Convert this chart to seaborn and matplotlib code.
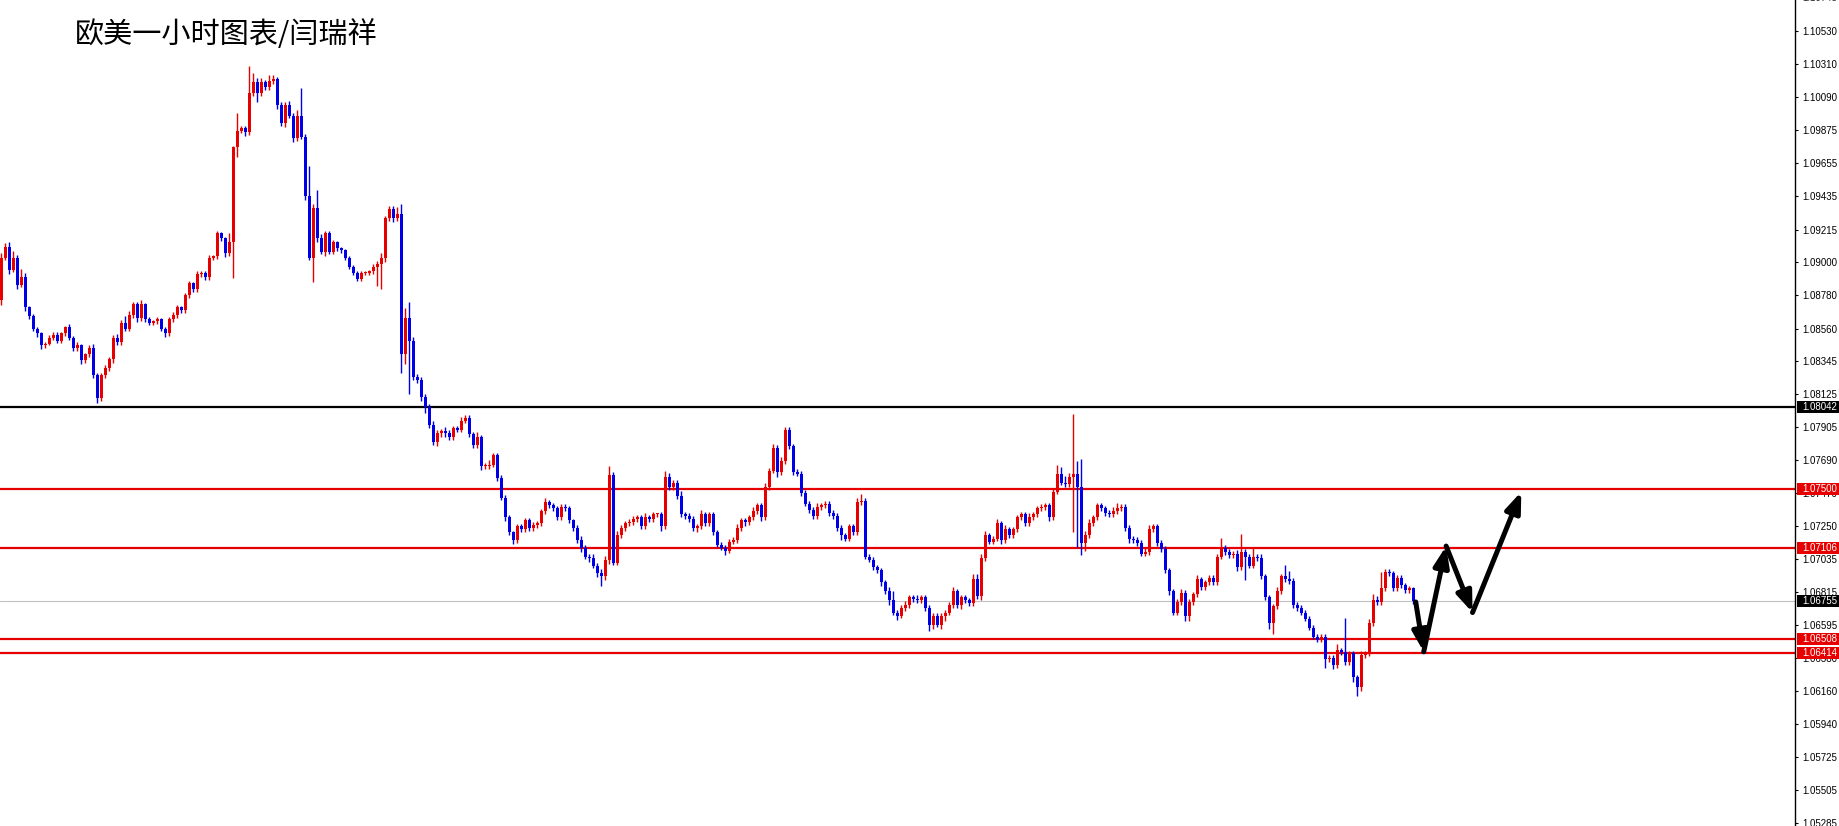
"""EURUSD 1h candlestick chart with support/resistance levels and forecast arrows."""

import matplotlib
matplotlib.use("Agg")
import matplotlib.pyplot as plt
import matplotlib.transforms as mtransforms
from matplotlib.patches import Rectangle
import numpy as np
import seaborn as sns


# ---------------------------------------------------------------------------
# Data (hourly closes, first open, wick lengths in pips)
# ---------------------------------------------------------------------------

first_open = 1.0875

closes = [
    1.0903, 1.0910, 1.0895, 1.0903, 1.0885, 1.0890, 1.0870, 1.0864, 1.0856, 1.0853,
    1.0845, 1.0846, 1.0850, 1.0852, 1.0848, 1.0853, 1.0857, 1.0850, 1.0843, 1.0845,
    1.0835, 1.0839, 1.0843, 1.0825, 1.0810, 1.0825, 1.0830, 1.0836, 1.0850, 1.0847,
    1.0860, 1.0856, 1.0865, 1.0872, 1.0863, 1.0872, 1.0862, 1.0860, 1.0861, 1.0862,
    1.0856, 1.0853, 1.0862, 1.0865, 1.0870, 1.0868, 1.0878, 1.0886, 1.0882, 1.0892,
    1.0893, 1.0890, 1.0903, 1.0904, 1.0919, 1.0916, 1.0906, 1.0913, 1.0976, 1.0987,
    1.0989, 1.0986, 1.1012, 1.1019, 1.1012, 1.1019, 1.1016, 1.1020, 1.1021, 1.1004,
    1.0992, 1.1004, 1.0997, 1.0982, 1.0997, 1.0983, 1.0944, 1.0903, 1.0936, 1.0916,
    1.0907, 1.0919, 1.0907, 1.0913, 1.0909, 1.0908, 1.0903, 1.0897, 1.0893, 1.0889,
    1.0893, 1.0893, 1.0894, 1.0897, 1.0899, 1.0903, 1.0929, 1.0935, 1.0929, 1.0932,
    1.0839, 1.0863, 1.0848, 1.0824, 1.0822, 1.0811, 1.0804, 1.0792, 1.0781, 1.0787,
    1.0788, 1.0787, 1.0784, 1.0790, 1.0789, 1.0795, 1.0797, 1.0786, 1.0779, 1.0784,
    1.0765, 1.0765, 1.0766, 1.0772, 1.0757, 1.0744, 1.0731, 1.0721, 1.0716, 1.0725,
    1.0723, 1.0729, 1.0724, 1.0726, 1.0727, 1.0735, 1.0741, 1.0739, 1.0737, 1.0731,
    1.0738, 1.0737, 1.0729, 1.0724, 1.0716, 1.0711, 1.0705, 1.0704, 1.0699, 1.0694,
    1.0692, 1.0703, 1.0759, 1.0701, 1.0719, 1.0724, 1.0727, 1.0728, 1.0730, 1.0731,
    1.0725, 1.0731, 1.0730, 1.0733, 1.0733, 1.0725, 1.0758, 1.0751, 1.0754, 1.0745,
    1.0733, 1.0732, 1.0730, 1.0724, 1.0725, 1.0733, 1.0727, 1.0733, 1.0721, 1.0713,
    1.0711, 1.0709, 1.0715, 1.0716, 1.0724, 1.0729, 1.0728, 1.0731, 1.0735, 1.0739,
    1.0731, 1.0751, 1.0762, 1.0777, 1.0761, 1.0768, 1.0789, 1.0778, 1.0761, 1.0760,
    1.0747, 1.0740, 1.0736, 1.0732, 1.0738, 1.0739, 1.0740, 1.0734, 1.0732, 1.0724,
    1.0719, 1.0717, 1.0725, 1.0721, 1.0741, 1.0742, 1.0705, 1.0703, 1.0698, 1.0696,
    1.0688, 1.0682, 1.0676, 1.0668, 1.0666, 1.0671, 1.0673, 1.0678, 1.0677, 1.0676,
    1.0678, 1.0671, 1.0660, 1.0666, 1.0660, 1.0666, 1.0668, 1.0673, 1.0682, 1.0673,
    1.0678, 1.0676, 1.0674, 1.0690, 1.0679, 1.0704, 1.0719, 1.0715, 1.0717, 1.0727,
    1.0716, 1.0723, 1.0719, 1.0723, 1.0731, 1.0733, 1.0727, 1.0731, 1.0733, 1.0737,
    1.0738, 1.0739, 1.0731, 1.0748, 1.0760, 1.0754, 1.0753, 1.0758, 1.0760, 1.0751,
    1.0714, 1.0719, 1.0727, 1.0731, 1.0739, 1.0737, 1.0734, 1.0733, 1.0735, 1.0737,
    1.0738, 1.0724, 1.0717, 1.0716, 1.0714, 1.0707, 1.0708, 1.0723, 1.0725, 1.0714,
    1.0710, 1.0696, 1.0682, 1.0668, 1.0675, 1.0681, 1.0666, 1.0675, 1.0680, 1.0690,
    1.0685, 1.0688, 1.0691, 1.0688, 1.0705, 1.0711, 1.0708, 1.0706, 1.0707, 1.0698,
    1.0708, 1.0705, 1.0699, 1.0705, 1.0704, 1.0692, 1.0678, 1.0661, 1.0672, 1.0682,
    1.0692, 1.0690, 1.0689, 1.0673, 1.0671, 1.0668, 1.0664, 1.0658, 1.0652, 1.0650,
    1.0652, 1.0637, 1.0638, 1.0633, 1.0643, 1.0642, 1.0635, 1.0641, 1.0625, 1.0619,
    1.0640, 1.0641, 1.0661, 1.0676, 1.0675, 1.0684, 1.0695, 1.0694, 1.0684, 1.0691,
    1.0686, 1.0683, 1.0684, 1.06755,
]

# upper / lower shadows, pips above / below the candle body
wick_up = [
    3, 3, 4, 5, 2, 6, 3, 1, 2, 1,
    1, 1, 2, 2, 2, 1, 1, 2, 1, 2,
    1, 1, 2, 3, 2, 2, 2, 1, 2, 3,
    2, 5, 3, 2, 2, 3, 1, 2, 1, 2,
    1, 1, 2, 2, 2, 1, 2, 2, 1, 2,
    1, 1, 2, 1, 2, 1, 1, 7, 1, 13,
    1, 1, 20, 7, 3, 3, 2, 4, 3, 2,
    2, 2, 3, 2, 4, 20, 2, 22, 3, 13,
    3, 2, 2, 2, 1, 1, 1, 1, 1, 1,
    1, 1, 1, 2, 2, 3, 2, 2, 2, 5,
    7, 7, 12, 3, 2, 2, 2, 2, 3, 2,
    2, 3, 2, 2, 2, 3, 2, 2, 2, 4,
    2, 2, 3, 2, 2, 2, 2, 2, 1, 2,
    2, 2, 2, 2, 2, 2, 3, 2, 2, 2,
    2, 2, 2, 1, 2, 3, 2, 2, 3, 2,
    3, 3, 7, 2, 3, 2, 2, 2, 2, 2,
    2, 3, 2, 2, 1, 2, 4, 3, 2, 2,
    4, 2, 2, 2, 2, 3, 2, 2, 2, 2,
    2, 2, 2, 2, 3, 2, 2, 2, 3, 2,
    2, 3, 2, 3, 2, 3, 2, 2, 2, 2,
    2, 2, 2, 2, 3, 2, 2, 2, 2, 2,
    2, 2, 2, 2, 3, 5, 2, 2, 2, 2,
    2, 2, 3, 7, 2, 2, 3, 2, 2, 3,
    2, 2, 2, 2, 2, 2, 2, 2, 3, 2,
    2, 2, 2, 4, 4, 3, 3, 2, 2, 3,
    2, 3, 2, 2, 2, 2, 2, 3, 2, 2,
    2, 2, 2, 3, 6, 5, 5, 3, 44, 9,
    21, 3, 3, 2, 2, 2, 2, 2, 3, 4,
    2, 2, 2, 2, 2, 2, 3, 3, 2, 2,
    2, 2, 2, 2, 2, 3, 2, 2, 2, 3,
    2, 2, 2, 2, 2, 7, 2, 2, 2, 3,
    13, 2, 2, 7, 2, 3, 2, 2, 2, 3,
    2, 8, 6, 2, 2, 2, 2, 2, 2, 2,
    2, 2, 2, 2, 5, 2, 25, 2, 2, 2,
    3, 2, 3, 5, 3, 12, 2, 2, 2, 2,
    2, 2, 2, 1,
]

wick_dn = [
    4, 2, 3, 2, 3, 2, 3, 2, 2, 3,
    3, 2, 1, 2, 2, 2, 2, 2, 2, 2,
    3, 2, 2, 2, 4, 2, 2, 2, 3, 2,
    2, 2, 2, 2, 3, 2, 2, 2, 2, 2,
    2, 3, 2, 2, 2, 2, 2, 2, 2, 2,
    2, 2, 2, 2, 2, 2, 3, 2, 26, 7,
    2, 3, 2, 2, 7, 2, 2, 2, 2, 3,
    2, 3, 2, 3, 2, 2, 3, 2, 18, 3,
    2, 3, 2, 2, 2, 2, 2, 2, 2, 2,
    2, 2, 2, 2, 14, 19, 3, 2, 3, 2,
    14, 7, 39, 2, 2, 3, 4, 2, 2, 3,
    3, 3, 2, 2, 2, 2, 2, 2, 2, 2,
    3, 2, 2, 2, 2, 2, 3, 2, 3, 2,
    2, 2, 2, 2, 2, 2, 2, 2, 2, 2,
    2, 2, 2, 2, 2, 3, 2, 3, 2, 3,
    7, 3, 3, 2, 2, 2, 2, 2, 2, 2,
    2, 2, 2, 2, 2, 3, 2, 2, 2, 2,
    2, 2, 2, 2, 3, 2, 2, 2, 2, 2,
    2, 3, 2, 2, 2, 2, 3, 2, 2, 2,
    3, 2, 2, 2, 4, 2, 2, 2, 2, 2,
    2, 2, 2, 2, 2, 2, 2, 2, 2, 2,
    3, 2, 2, 2, 2, 2, 2, 2, 2, 2,
    3, 2, 3, 2, 3, 2, 2, 2, 2, 2,
    2, 2, 5, 3, 2, 3, 4, 2, 2, 2,
    3, 2, 2, 2, 2, 3, 2, 2, 2, 2,
    3, 2, 2, 2, 2, 2, 2, 2, 2, 2,
    2, 2, 3, 2, 2, 2, 2, 2, 41, 44,
    9, 6, 2, 2, 2, 2, 2, 2, 2, 2,
    2, 2, 3, 2, 2, 2, 2, 2, 2, 2,
    2, 2, 3, 2, 2, 2, 4, 4, 2, 2,
    2, 2, 2, 2, 2, 2, 2, 2, 2, 3,
    2, 17, 2, 2, 2, 2, 2, 4, 8, 2,
    2, 2, 2, 2, 2, 2, 2, 2, 2, 2,
    2, 6, 2, 3, 2, 2, 2, 2, 3, 7,
    3, 2, 2, 2, 2, 2, 2, 2, 2, 2,
    2, 2, 2, 2,
]

# key levels drawn as horizontal lines
resistance_black = 1.08042
red_levels = [1.07500, 1.07106, 1.06508, 1.06414]
last_price = 1.06755

# hand-drawn forecast zigzag (bar index, price)
forecast_bar = [353.6, 355.6, 361.2, 367.8, 380.0]
forecast_price = [1.0675, 1.0642, 1.0712, 1.0668, 1.0748]

# price scale ticks as shown on the terminal axis
tick_values = [
    1.10530, 1.10310, 1.10090, 1.09875, 1.09655, 1.09435, 1.09215, 1.09000,
    1.08780, 1.08560, 1.08345, 1.08125, 1.07905, 1.07690, 1.07470, 1.07250,
    1.07035, 1.06815, 1.06595, 1.06380, 1.06160, 1.05940, 1.05725, 1.05505,
    1.05285,
]
top_cut_tick = 1.10745

title = "欧美一小时图表/闫瑞祥"

assert len(closes) == len(wick_up) == len(wick_dn), (len(closes), len(wick_up), len(wick_dn))


# ---------------------------------------------------------------------------
# Figure
# ---------------------------------------------------------------------------

sns.set_theme(style="white")
plt.rcParams["font.family"] = ["Liberation Sans", "DejaVu Sans"]

W, H = 1840, 826
AX_W = 1795
fig = plt.figure(figsize=(W / 100, H / 100), dpi=100)
fig.patch.set_facecolor("white")
ax = fig.add_axes([0, 0, AX_W / W, 1])
ax.set_facecolor("white")

BULL = "#e60000"
BEAR = "#0000e6"
LINE_RED = "#e60000"
PIP = 0.0001

c = np.array(closes)
o = np.concatenate([[first_open], c[:-1]])
x = np.arange(len(c))
top = np.maximum(o, c)
bot = np.minimum(o, c)
hi = top + np.array(wick_up) * PIP * 0.9
lo = bot - np.array(wick_dn) * PIP * 0.9
colors = np.where(c >= o, BULL, BEAR)

# Horizontal levels (behind candles)
ax.axhline(last_price, color="#c0c0c0", lw=0.8, zorder=1)
ax.axhline(resistance_black, color="black", lw=1.6, zorder=1)
for lvl in red_levels:
    ax.axhline(lvl, color=LINE_RED, lw=1.6, zorder=1)

# Candles: wicks then bodies
ax.vlines(x, lo, hi, colors=colors, lw=1.0, zorder=2)
ax.bar(x, np.maximum(top - bot, 0.00006), width=0.78, bottom=bot,
       color=colors, edgecolor="none", zorder=3)

# Forecast arrows, one per leg
for k in range(len(forecast_bar) - 1):
    ax.annotate(
        "", xy=(forecast_bar[k + 1], forecast_price[k + 1]),
        xytext=(forecast_bar[k], forecast_price[k]),
        arrowprops=dict(arrowstyle="-|>,head_length=1.0,head_width=0.38",
                        lw=3.6, color="black", shrinkA=0, shrinkB=0),
        zorder=5,
    )

# Axis limits: 4 px per bar
px = 0.0000662
ax.set_xlim(-0.33, AX_W / 4 - 0.33)
ax.set_ylim(1.10735 - px * H, 1.10735)

# Right-hand price scale
for side in ("top", "left", "bottom"):
    ax.spines[side].set_visible(False)
ax.spines["right"].set_color("black")
ax.spines["right"].set_linewidth(1.0)
ax.set_xticks([])
ax.yaxis.tick_right()
ax.set_yticks(tick_values)
ax.set_yticklabels([f"{v:.5f}" for v in tick_values])
ax.tick_params(axis="y", direction="out", length=2.5, width=0.8, pad=2.5,
               labelsize=7, colors="black")
ax.grid(False)

blend = mtransforms.blended_transform_factory(fig.transFigure, ax.transData)
ax.text(1802 / W, top_cut_tick, f"{top_cut_tick:.5f}", transform=blend,
        fontsize=7, va="center", ha="left", clip_on=False)

# Highlighted level labels on the scale
badges = [(resistance_black, "black")] + [(v, LINE_RED) for v in red_levels] + [(last_price, "black")]
box_h = 12 * px
for val, fc in badges:
    ax.add_patch(Rectangle((1797 / W, val - box_h / 2), 42 / W, box_h,
                           transform=blend, facecolor=fc, edgecolor="none",
                           clip_on=False, zorder=10))
    ax.text(1802 / W, val, f"{val:.5f}", transform=blend, color="white",
            fontsize=7, va="center", ha="left", clip_on=False, zorder=11)

fig.text(75 / W, 1 - 35 / H, title, fontsize=21, va="center", ha="left",
         family=["Noto Sans CJK SC", "DejaVu Sans"], color="black")

fig.savefig("out.png", dpi=100, facecolor="white")
plt.close(fig)
